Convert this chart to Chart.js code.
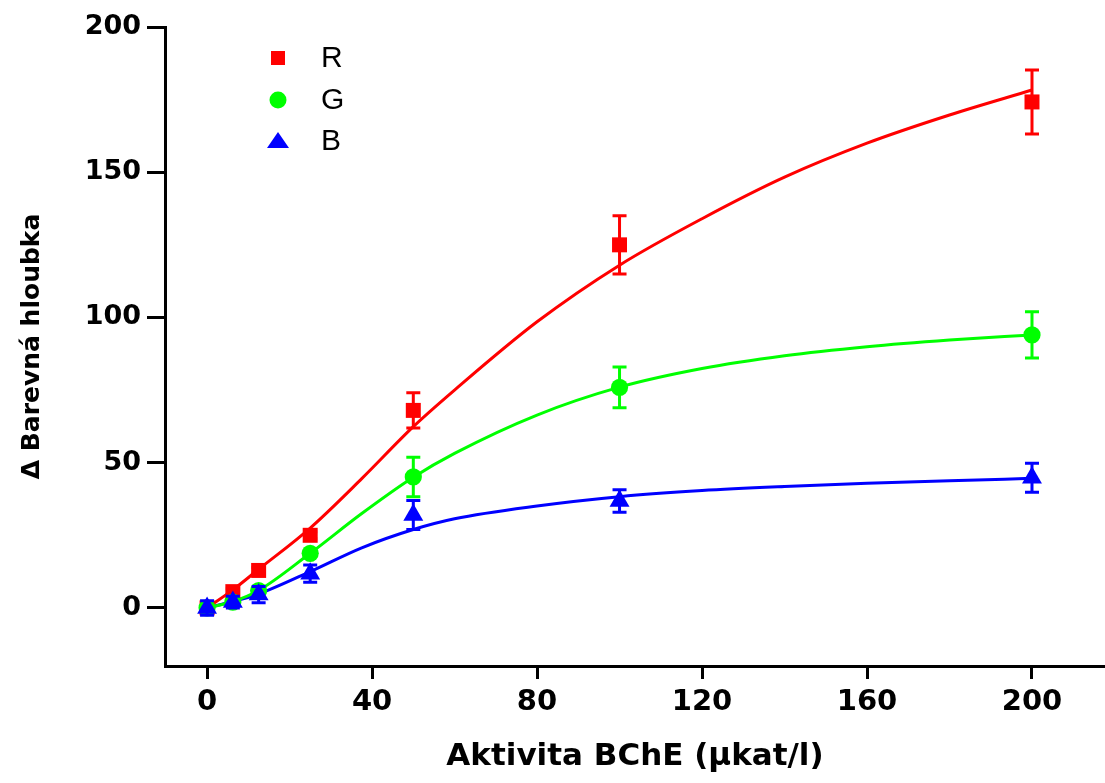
<!DOCTYPE html>
<html><head><meta charset="utf-8">
<script src="https://cdn.jsdelivr.net/npm/chart.js@4.4.0/dist/chart.umd.min.js"></script>
<style>html,body{margin:0;padding:0;background:#fff;}#wrap{width:1105px;height:783px;}</style>
</head><body><div id="wrap"><canvas id="c" width="1105" height="783"></canvas></div>
<script>
// ---- data ----
const seriesNames = ['R', 'G', 'B'];
const seriesColors = ['#ff0000', '#00ff00', '#0000ff'];
const xPoints = [0, 6.25, 12.5, 25, 50, 100, 200];
const valuesR = [0, 5.6, 12.9, 25, 68, 125, 174.2];
const errorsR = [1, 1, 1, 1.2, 6.1, 10, 11];
const valuesG = [0, 2, 6, 18.8, 45.1, 75.9, 94];
const errorsG = [1, 1, 1, 1, 6.8, 7, 8];
const valuesB = [0, 2, 4.6, 11.8, 32, 36.8, 44.8];
const errorsB = [2.5, 2, 2.8, 3, 5, 3.9, 5];
const xFit = [0, 6.25, 12.5, 25, 37.5, 50, 60, 80, 100, 120, 140, 160, 180, 200];
const fitR = [0, 6.2, 13.3, 27.5, 44.5, 62.4, 75, 98.5, 118, 134, 148.3, 160, 169.7, 178.3];
const fitG = [0, 2.2, 6, 18.8, 32.5, 45, 53.2, 66.4, 76, 82.4, 86.8, 89.9, 92.2, 94];
const fitB = [0, 2.2, 4.8, 12.5, 20.7, 27, 30.7, 35.1, 38.3, 40.4, 41.8, 42.9, 43.8, 44.6];
const xTicks = [0, 40, 80, 120, 160, 200];
const yTicks = [0, 50, 100, 150, 200];
const xTitle = 'Aktivita BChE (\u03bckat/l)';
const yTitle = '\u0394 Barevn\u00e1 hloubka';

const pts = (xs, ys) => xs.map((x, i) => ({x: x, y: ys[i]}));
const pointValues = [valuesR, valuesG, valuesB];
const pointErrors = [errorsR, errorsG, errorsB];
const fits = [fitR, fitG, fitB];
const styles = ['rect', 'circle', 'triangle'];
const radii = [10.6, 8.6, 11.5];

const datasets = [];
fits.forEach((f, i) => datasets.push({
  label: seriesNames[i] + ' fit', data: pts(xFit, f), showLine: true,
  borderColor: seriesColors[i], borderWidth: 3, pointRadius: 0,
  cubicInterpolationMode: 'monotone', order: 10
}));
pointValues.forEach((v, i) => datasets.push({
  label: seriesNames[i], data: pts(xPoints, v), showLine: false,
  backgroundColor: seriesColors[i], borderColor: seriesColors[i],
  pointStyle: styles[i], pointRadius: radii[i], pointBorderWidth: 0,
  pointHoverRadius: radii[i], errors: pointErrors[i], order: 3 - i
}));

const errorBars = {
  id: 'errorBars',
  beforeDatasetDraw(chart, args) {
    const ds = chart.data.datasets[args.index];
    if (!ds.errors) return;
    const ctx = chart.ctx, xs = chart.scales.x, ys = chart.scales.y;
    ctx.save();
    ctx.strokeStyle = ds.borderColor; ctx.lineWidth = 3;
    ds.data.forEach((p, j) => {
      const e = ds.errors[j];
      const px = xs.getPixelForValue(p.x);
      const y1 = ys.getPixelForValue(p.y + e), y2 = ys.getPixelForValue(p.y - e);
      ctx.beginPath();
      ctx.moveTo(px, y1); ctx.lineTo(px, y2);
      ctx.moveTo(px - 7, y1); ctx.lineTo(px + 7, y1);
      ctx.moveTo(px - 7, y2); ctx.lineTo(px + 7, y2);
      ctx.stroke();
    });
    ctx.restore();
  }
};

const legendInside = {
  id: 'legendInside',
  afterDraw(chart) {
    const ctx = chart.ctx;
    const mx = 278, tx = 321, rows = [58, 100, 141];
    ctx.save();
    seriesNames.forEach((n, i) => {
      const y = rows[i];
      ctx.fillStyle = seriesColors[i];
      ctx.beginPath();
      if (styles[i] === 'rect') ctx.rect(mx - 7, y - 7, 14, 14);
      else if (styles[i] === 'circle') ctx.arc(mx, y, 8.5, 0, Math.PI * 2);
      else { ctx.moveTo(mx, y - 9); ctx.lineTo(mx + 11, y + 7); ctx.lineTo(mx - 11, y + 7); ctx.closePath(); }
      ctx.fill();
      ctx.fillStyle = '#000';
      ctx.font = '30px "Liberation Sans", Arial, sans-serif';
      ctx.textBaseline = 'middle'; ctx.textAlign = 'left';
      ctx.fillText(n, tx, y + 1);
    });
    ctx.restore();
  }
};

const tickFont = {family: '"DejaVu Sans", sans-serif', weight: 'bold', size: 27};
new Chart(document.getElementById('c'), {
  type: 'scatter',
  data: {datasets: datasets},
  plugins: [errorBars, legendInside],
  options: {
    responsive: false, animation: false, devicePixelRatio: 1,
    layout: {autoPadding: false, padding: {top: 27, right: 0, bottom: 0, left: 0}},
    plugins: {legend: {display: false}, tooltip: {enabled: false}},
    scales: {
      x: {
        type: 'linear', min: -10.2, max: 217.7,
        afterBuildTicks: s => { s.ticks = xTicks.map(v => ({value: v})); },
        afterFit: s => { s.height = 117; s.paddingRight = 0; s.paddingLeft = 0; },
        ticks: {font: {family: '"DejaVu Sans", sans-serif', weight: 'bold', size: 29}, color: '#000', padding: 6, maxRotation: 0},
        grid: {drawOnChartArea: false, drawTicks: true, tickLength: 13, lineWidth: 3, color: '#000'},
        border: {display: true, width: 3, color: '#000'},
        title: {display: true, text: xTitle, color: '#000',
          font: {family: '"DejaVu Sans", sans-serif', weight: 'bold', size: 31}, padding: {top: 0, bottom: 7}}
      },
      y: {
        type: 'linear', min: -20, max: 200,
        afterBuildTicks: s => { s.ticks = yTicks.map(v => ({value: v})); },
        afterFit: s => { s.width = 165; },
        ticks: {font: tickFont, color: '#000', padding: 6},
        grid: {drawOnChartArea: false, drawTicks: true, tickLength: 18, lineWidth: 3, color: '#000'},
        border: {display: true, width: 3, color: '#000'},
        title: {display: true, text: yTitle, color: '#000',
          font: {family: '"DejaVu Sans", sans-serif', weight: 'bold', size: 25}, padding: {top: 17, bottom: 0}}
      }
    }
  }
});
</script></body></html>
